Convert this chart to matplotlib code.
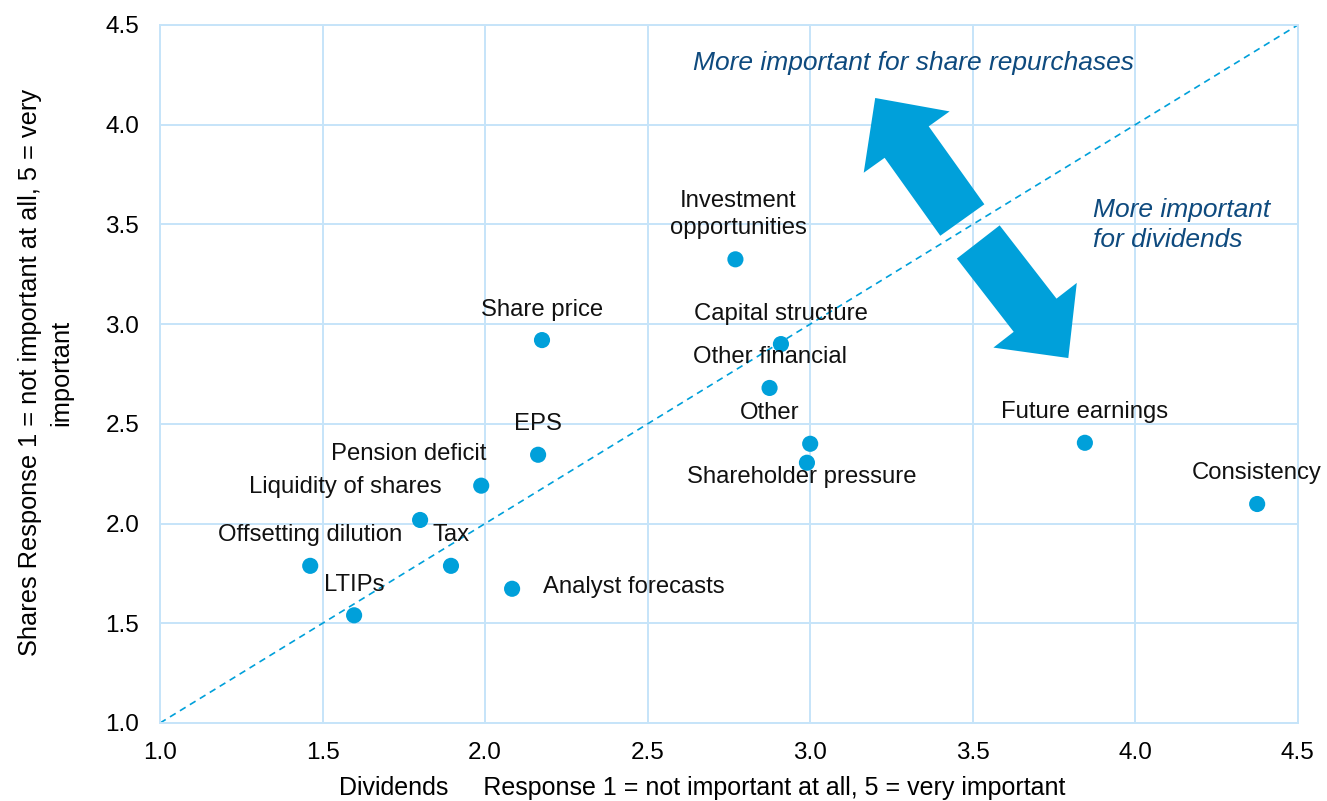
import matplotlib
matplotlib.use("Agg")
import matplotlib.pyplot as plt

names = ["Investment\nopportunities", "Share price", "Capital structure", "Other financial",
         "Other", "Shareholder pressure", "Future earnings", "Consistency", "EPS",
         "Pension deficit", "Liquidity of shares", "Offsetting dilution", "Tax",
         "Analyst forecasts", "LTIPs"]
dividends = [2.77, 2.175, 2.91, 2.875, 3.00, 2.99, 3.845, 4.375, 2.163,
             1.988, 1.80, 1.462, 1.895, 2.083, 1.597]
shares = [3.325, 2.92, 2.90, 2.68, 2.40, 2.305, 2.405, 2.098, 2.345,
          2.19, 2.018, 1.788, 1.788, 1.673, 1.54]
# label offsets in points (dx, dy)
offsets = [(2, 32), (0, 22), (0, 22), (0, 22), (-29, 22), (-4, -10), (0, 22), (0, 22), (0, 22),
           (-52, 23), (-54, 24), (0, 22), (0, 22), (22, 1), (0, 22)]

ticks = [1.0, 1.5, 2.0, 2.5, 3.0, 3.5, 4.0, 4.5]

plt.rcParams['font.family'] = ['Liberation Sans', 'DejaVu Sans']

blue = "#00a0da"
grid_c = "#c6e4f9"
dark = "#0e4a7e"

fig = plt.figure(figsize=(13.27, 8.01), dpi=100)
ax = fig.add_axes([0.1206, 0.0974, 0.8574, 0.8714])
ax.set_xlim(1.0, 4.5)
ax.set_ylim(1.0, 4.5)
ax.set_xticks(ticks)
ax.set_yticks(ticks)
ax.set_xticklabels([f"{t:.1f}" for t in ticks], fontsize=17.5)
ax.set_yticklabels([f"{t:.1f}" for t in ticks], fontsize=17.5)
ax.tick_params(axis='x', length=0, pad=14)
ax.tick_params(axis='y', length=0, pad=15)
ax.grid(True, color=grid_c, linewidth=1.4)
ax.set_axisbelow(True)
for s in ax.spines.values():
    s.set_color(grid_c)
    s.set_linewidth(1.4)

ax.plot([1.0, 4.5], [1.0, 4.5], linestyle=(0, (4, 3)), color=blue, linewidth=1.2, zorder=2)

ax.scatter(dividends, shares, s=135, color=blue, zorder=4, edgecolors='none')
for n, x, y, (dx, dy) in zip(names, dividends, shares, offsets):
    ha = 'left' if n == "Analyst forecasts" else 'center'
    ax.annotate(n, (x, y), xytext=(dx, dy), textcoords='offset points',
                ha=ha, va='center', fontsize=17.2, color='#111111', linespacing=1.3, zorder=5)

arrow_style = "simple,head_length=39,head_width=76,tail_width=39"
ax.annotate("", xy=(3.20, 4.134), xytext=(3.468, 3.522),
            arrowprops=dict(arrowstyle=arrow_style, color=blue, mutation_scale=1,
                            shrinkA=0, shrinkB=0, linewidth=0), zorder=3)
ax.annotate("", xy=(3.794, 2.83), xytext=(3.517, 3.412),
            arrowprops=dict(arrowstyle=arrow_style, color=blue, mutation_scale=1,
                            shrinkA=0, shrinkB=0, linewidth=0), zorder=3)

ax.text(2.64, 4.31, "More important for share repurchases", style='italic', color=dark,
        fontsize=19, ha='left', va='center')
ax.text(3.871, 3.497, "More important\nfor dividends", style='italic', color=dark,
        fontsize=19, ha='left', va='center', linespacing=1.3)

fig.text(0.0345, 0.535, "Shares Response 1 = not important at all, 5 = very\nimportant",
         rotation=90, ha='center', va='center', fontsize=18.3, linespacing=1.35)
fig.text(0.529, 0.016, "Dividends     Response 1 = not important at all, 5 = very important",
         ha='center', va='center', fontsize=18)

fig.savefig("out.png", dpi=100)
